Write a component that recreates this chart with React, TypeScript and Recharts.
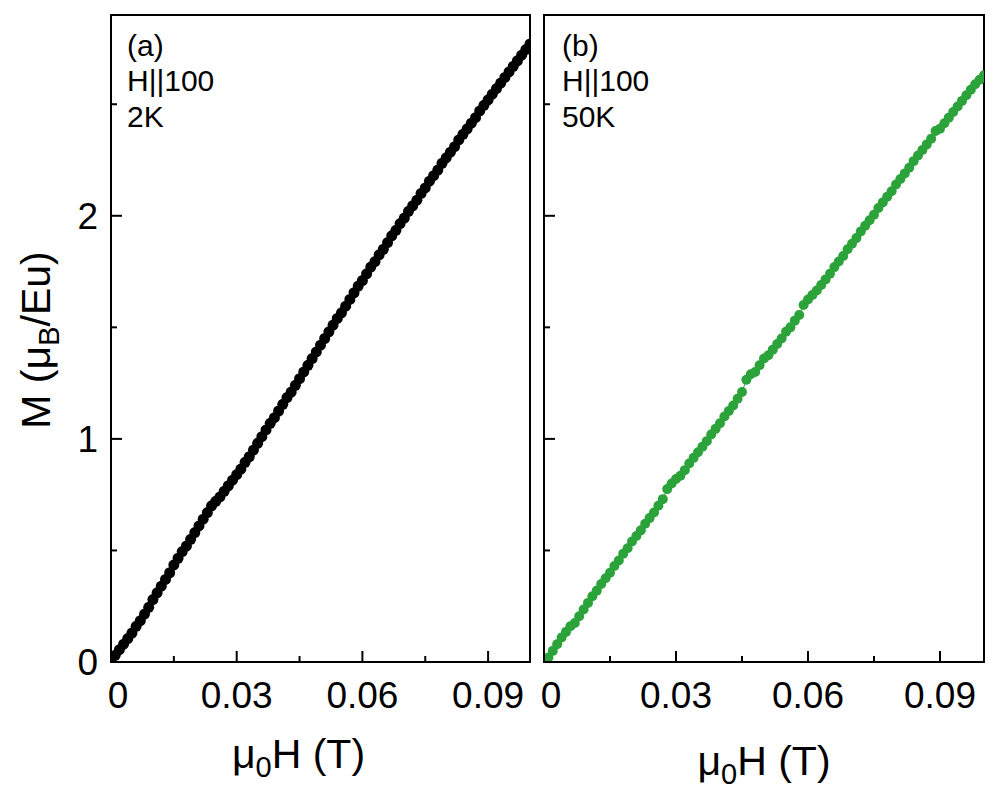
import React from 'react';
import { LineChart, Line, XAxis, YAxis, ReferenceArea } from 'recharts';

const fieldT = [
  0, 0.001, 0.002, 0.003, 0.004, 0.005, 0.006, 0.007, 0.008, 0.009,
  0.01, 0.011, 0.012, 0.013, 0.014, 0.015, 0.016, 0.017, 0.018, 0.019,
  0.02, 0.021, 0.022, 0.023, 0.024, 0.025, 0.026, 0.027, 0.028, 0.029,
  0.03, 0.031, 0.032, 0.033, 0.034, 0.035, 0.036, 0.037, 0.038, 0.039,
  0.04, 0.041, 0.042, 0.043, 0.044, 0.045, 0.046, 0.047, 0.048, 0.049,
  0.05, 0.051, 0.052, 0.053, 0.054, 0.055, 0.056, 0.057, 0.058, 0.059,
  0.06, 0.061, 0.062, 0.063, 0.064, 0.065, 0.066, 0.067, 0.068, 0.069,
  0.07, 0.071, 0.072, 0.073, 0.074, 0.075, 0.076, 0.077, 0.078, 0.079,
  0.08, 0.081, 0.082, 0.083, 0.084, 0.085, 0.086, 0.087, 0.088, 0.089,
  0.09, 0.091, 0.092, 0.093, 0.094, 0.095, 0.096, 0.097, 0.098, 0.099,
  0.1,
];

const m2K = [
  0, 0.03, 0.055, 0.08, 0.105, 0.13, 0.16, 0.185, 0.215, 0.245,
  0.28, 0.31, 0.34, 0.37, 0.4, 0.435, 0.465, 0.495, 0.52, 0.55,
  0.58, 0.61, 0.64, 0.67, 0.7, 0.72, 0.74, 0.765, 0.79, 0.815,
  0.84, 0.865, 0.895, 0.92, 0.95, 0.98, 1.01, 1.04, 1.07, 1.095,
  1.125, 1.155, 1.185, 1.21, 1.24, 1.27, 1.3, 1.33, 1.36, 1.39,
  1.42, 1.45, 1.48, 1.51, 1.54, 1.565, 1.595, 1.625, 1.655, 1.685,
  1.71, 1.74, 1.77, 1.795, 1.825, 1.85, 1.88, 1.91, 1.935, 1.965,
  1.99, 2.02, 2.045, 2.07, 2.1, 2.125, 2.155, 2.18, 2.205, 2.235,
  2.26, 2.285, 2.31, 2.34, 2.365, 2.39, 2.415, 2.44, 2.47, 2.495,
  2.52, 2.545, 2.57, 2.595, 2.62, 2.645, 2.67, 2.695, 2.72, 2.745,
  2.77,
];

const m50K = [
  0, 0.02, 0.05, 0.08, 0.11, 0.135, 0.16, 0.175, 0.205, 0.235,
  0.265, 0.295, 0.32, 0.35, 0.375, 0.4, 0.43, 0.455, 0.485, 0.51,
  0.54, 0.565, 0.59, 0.62, 0.645, 0.67, 0.7, 0.73, 0.775, 0.8,
  0.82, 0.835, 0.86, 0.89, 0.915, 0.94, 0.965, 0.99, 1.02, 1.045,
  1.07, 1.1, 1.125, 1.15, 1.18, 1.21, 1.265, 1.29, 1.3, 1.33,
  1.36, 1.375, 1.4, 1.425, 1.45, 1.48, 1.5, 1.53, 1.555, 1.6,
  1.625, 1.645, 1.665, 1.69, 1.715, 1.74, 1.77, 1.795, 1.82, 1.85,
  1.875, 1.9, 1.93, 1.955, 1.98, 2.005, 2.035, 2.06, 2.085, 2.11,
  2.14, 2.165, 2.19, 2.215, 2.245, 2.27, 2.295, 2.32, 2.345, 2.38,
  2.39, 2.415, 2.44, 2.465, 2.49, 2.515, 2.54, 2.565, 2.59, 2.61,
  2.63,
];

const xTicksAll = [0, 0.015, 0.03, 0.045, 0.06, 0.075, 0.09];
const xMajorTicks = [0, 0.03, 0.06, 0.09];
const xMajorLabels = ['0', '0.03', '0.06', '0.09'];
const yTicksAll = [0, 0.5, 1, 1.5, 2, 2.5];
const yMajorTicks = [0, 1, 2];
const yMajorLabels = ['0', '1', '2'];

const panelA = ['(a)', 'H||100', '2K'];
const panelB = ['(b)', 'H||100', '50K'];

const X_DOMAIN = [0, 0.1];
const Y_DOMAIN = [0, 2.9];

const FONT = '"Liberation Sans", Arial, Helvetica, sans-serif';
const GREEN = '#2ca33a';

const data2K = fieldT.map((h, i) => ({ h, m: m2K[i] }));
const data50K = fieldT.map((h, i) => ({ h, m: m50K[i] }));

const findIdx = (arr: number[], v: number) => arr.findIndex((t) => Math.abs(t - v) < 1e-9);

const makeXTick = () => (props: any) => {
  const { x, y, payload } = props;
  const idx = findIdx(xMajorTicks, payload.value);
  const major = idx >= 0;
  const len = major ? 11 : 6;
  const dx = payload.value === 0 ? 7 : 0;
  return (
    <g>
      <line x1={x} y1={y} x2={x} y2={y - len} stroke="#000" strokeWidth={2} />
      {major && (
        <text x={x + dx} y={y + 46} textAnchor="middle" fontSize={37} fontFamily={FONT} fill="#000">
          {xMajorLabels[idx]}
        </text>
      )}
    </g>
  );
};

const makeYTick = (showLabels: boolean) => (props: any) => {
  const { x, y, payload } = props;
  const idx = findIdx(yMajorTicks, payload.value);
  const major = idx >= 0;
  const len = major ? 11 : 6;
  return (
    <g>
      <line x1={x} y1={y} x2={x + len} y2={y} stroke="#000" strokeWidth={2} />
      {major && showLabels && (
        <text x={x - 13} y={y} dy="0.36em" textAnchor="end" fontSize={37} fontFamily={FONT} fill="#000">
          {yMajorLabels[idx]}
        </text>
      )}
    </g>
  );
};

const xTitle = (cxOffset: number, baseline: number) => (props: any) => {
  const vb = props.viewBox || {};
  const cx = vb.x + vb.width / 2 + cxOffset;
  const y = vb.y + baseline;
  return (
    <text x={cx} y={y} textAnchor="middle" fontSize={41} fontFamily={FONT} fill="#000">
      <tspan>μ</tspan>
      <tspan dy={9} fontSize={29}>0</tspan>
      <tspan dy={-9}>H (T)</tspan>
    </text>
  );
};

const yTitle = () => {
  const x = 50;
  const y = 340;
  return (
    <text x={x} y={y} textAnchor="middle" fontSize={41} fontFamily={FONT} fill="#000" transform={`rotate(-90 ${x} ${y})`}>
      <tspan>M (μ</tspan>
      <tspan dy={9} fontSize={29}>B</tspan>
      <tspan dy={-9}>/Eu)</tspan>
    </text>
  );
};

const annot = (lines: string[], dxLeft: number) => (props: any) => {
  const vb = props.viewBox || {};
  const x = vb.x + dxLeft;
  const base = vb.y;
  const ys = [41, 76, 112];
  return (
    <g>
      {lines.map((s, i) => (
        <text key={i} x={x} y={base + ys[i]} fontSize={30} fontFamily={FONT} fill="#000">
          {s}
        </text>
      ))}
    </g>
  );
};

function Panel(props: {
  data: any[];
  width: number;
  yWidth: number;
  right: number;
  color: string;
  r: number;
  lines: string[];
  annotDx: number;
  titleDx: number;
  titleBase: number;
  showYLabels: boolean;
}) {
  const p = props;
  return (
    <LineChart width={p.width} height={800} data={p.data} margin={{ top: 15, right: p.right, left: 0, bottom: 0 }}>
      <XAxis
        dataKey="h"
        type="number"
        domain={X_DOMAIN}
        ticks={xTicksAll}
        interval={0}
        tickSize={0}
        tickMargin={0}
        tickLine={false}
        tick={makeXTick()}
        axisLine={false}
        height={138}
        allowDataOverflow
        label={xTitle(p.titleDx, p.titleBase)}
      />
      <YAxis
        type="number"
        domain={Y_DOMAIN}
        ticks={yTicksAll}
        interval={0}
        tickSize={0}
        tickMargin={0}
        tickLine={false}
        tick={makeYTick(p.showYLabels)}
        axisLine={false}
        width={p.yWidth}
        allowDataOverflow
        label={p.showYLabels ? yTitle : undefined}
      />
      <ReferenceArea
        x1={X_DOMAIN[0]}
        x2={X_DOMAIN[1]}
        y1={Y_DOMAIN[0]}
        y2={Y_DOMAIN[1]}
        fill="none"
        fillOpacity={0}
        stroke="#000"
        strokeWidth={2}
        strokeOpacity={1}
        ifOverflow="visible"
        label={annot(p.lines, p.annotDx)}
      />
      <Line
        dataKey="m"
        stroke={p.color}
        strokeWidth={1}
        dot={{ r: p.r, fill: p.color, stroke: 'none' }}
        isAnimationActive={false}
      />
    </LineChart>
  );
}

export default function App() {
  return (
    <div style={{ position: 'absolute', left: 0, top: 0, width: 997, height: 800, background: '#fff' }}>
      <div style={{ position: 'absolute', left: 0, top: 0 }}>
        <Panel
          data={data2K}
          width={540}
          yWidth={111}
          right={10}
          color="#000"
          r={5.5}
          lines={panelA}
          annotDx={16}
          titleDx={-22}
          titleBase={106}
          showYLabels
        />
      </div>
      <div style={{ position: 'absolute', left: 530, top: 0 }}>
        <Panel
          data={data50K}
          width={467}
          yWidth={14}
          right={13}
          color={GREEN}
          r={5}
          lines={panelB}
          annotDx={18}
          titleDx={0}
          titleBase={113}
          showYLabels={false}
        />
      </div>
    </div>
  );
}
